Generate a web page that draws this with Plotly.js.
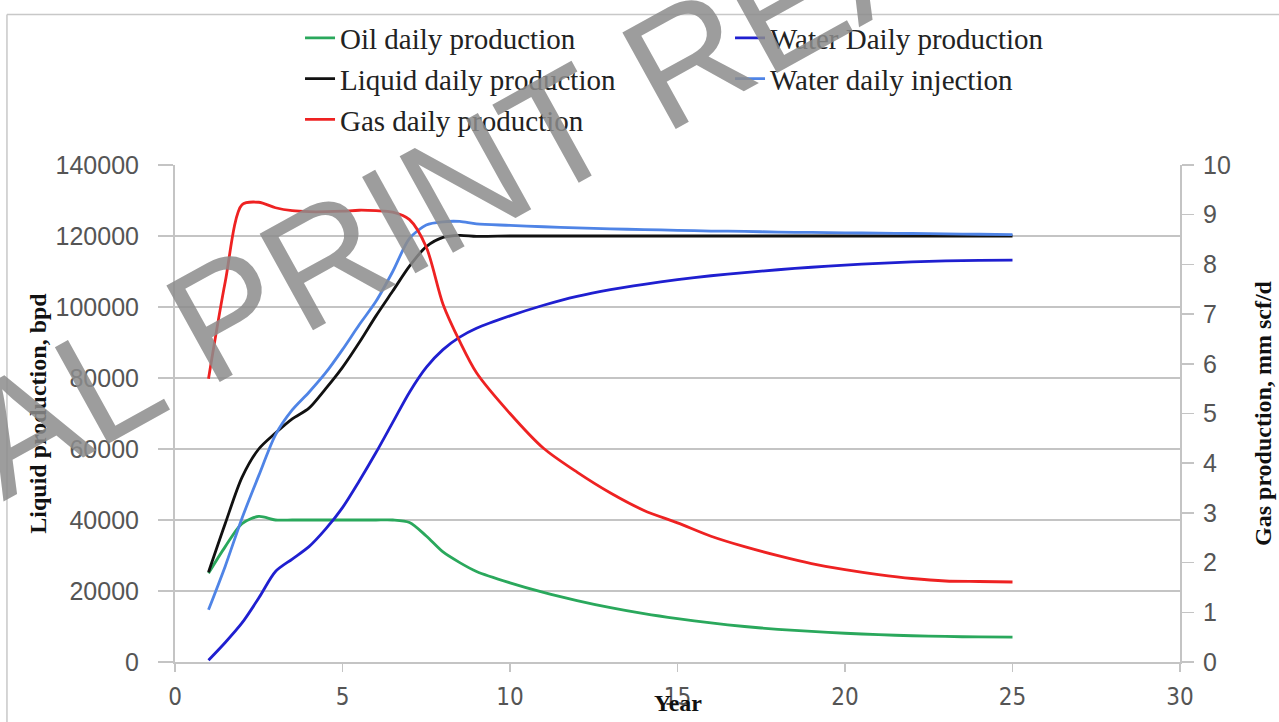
<!DOCTYPE html>
<html>
<head>
<meta charset="utf-8">
<script src="https://cdn.plot.ly/plotly-3.0.1.min.js"></script>
<style>html,body{margin:0;padding:0;background:#fff;}#chart{width:1279px;height:722px;}</style>
</head>
<body>
<div id="chart"></div>
<script>
// ---- data ----
var years = [1, 1.5, 2, 2.5, 3, 3.5, 4, 4.5, 5, 5.5, 6, 6.5, 7, 7.5, 8, 8.5, 9, 10, 11, 12, 13, 14, 15, 16, 17, 18, 19, 20, 21, 22, 23, 24, 25];

var oilDaily = [25000, 32500, 39000, 41000, 40000, 40000, 40000, 40000, 40000, 40000, 40000, 40000, 39300, 35500, 31000, 28000, 25500, 22300, 19600, 17300, 15300, 13600, 12200, 11000, 10000, 9200, 8600, 8100, 7700, 7400, 7200, 7050, 7000];

var waterDailyProd = [500, 5500, 11000, 18000, 25500, 29000, 32500, 37500, 43500, 51000, 59000, 67500, 76000, 83000, 88000, 91500, 94000, 97500, 100500, 103000, 104900, 106400, 107700, 108800, 109700, 110500, 111200, 111800, 112300, 112700, 113000, 113150, 113200];

var liquidDaily = [25300, 39000, 52000, 60000, 64500, 68500, 71500, 77000, 83000, 90000, 97500, 104500, 111500, 117000, 119600, 120200, 119900, 120000, 120000, 120000, 120000, 120000, 120000, 120000, 120000, 120000, 120000, 120000, 120000, 120000, 120000, 120000, 120000];

var waterDailyInj = [14700, 27000, 40500, 52500, 64000, 71000, 76000, 81500, 88000, 95000, 101600, 110000, 119300, 123100, 124000, 124100, 123400, 123000, 122600, 122300, 122000, 121800, 121600, 121400, 121300, 121100, 121000, 120900, 120800, 120700, 120600, 120500, 120400];

var gasDaily = [5.7, 7.65, 9.2, 9.25, 9.14, 9.08, 9.06, 9.06, 9.07, 9.09, 9.08, 9.05, 8.9, 8.35, 7.2, 6.45, 5.82, 5.0, 4.3, 3.82, 3.4, 3.05, 2.8, 2.53, 2.32, 2.14, 1.98, 1.86, 1.76, 1.68, 1.63, 1.62, 1.61];

var seriesNames = ["Oil daily production", "Water Daily production", "Liquid daily production", "Water daily injection", "Gas daily production"];
var seriesColors = ["#2aa85c", "#1f1fd0", "#111111", "#4f84e6", "#ee2222"];

var leftTicks = [0, 20000, 40000, 60000, 80000, 100000, 120000, 140000];
var rightTicks = [0, 1, 2, 3, 4, 5, 6, 7, 8, 9, 10];
var xTicks = [0, 5, 10, 15, 20, 25, 30];

// ---- traces ----
var seriesValues = [oilDaily, waterDailyProd, liquidDaily, waterDailyInj, gasDaily];
var traces = seriesValues.map(function (vals, i) {
  return {
    x: years,
    y: vals,
    name: seriesNames[i],
    type: 'scatter',
    mode: 'lines',
    yaxis: i === 4 ? 'y2' : 'y',
    line: {color: seriesColors[i], width: 2.8, shape: 'spline', smoothing: 0.8}
  };
});

var gridCol = '#c4c4c4';
var layout = {
  width: 1279,
  height: 722,
  margin: {l: 175, r: 99, t: 163, b: 60, pad: 0},
  paper_bgcolor: '#ffffff',
  plot_bgcolor: '#ffffff',
  showlegend: true,
  legend: {
    orientation: 'h',
    x: 0.1244, xanchor: 'left',
    y: 1.3066, yanchor: 'top',
    entrywidth: 385, entrywidthmode: 'pixels',
    traceorder: 'normal',
    bgcolor: 'rgba(0,0,0,0)',
    font: {family: 'Liberation Serif, Times New Roman, serif', size: 29, color: '#222'}
  },
  xaxis: {
    range: [0, 30],
    tickvals: xTicks,
    ticks: 'outside', ticklen: 8, tickwidth: 1.5, tickcolor: gridCol,
    showline: true, linecolor: gridCol, linewidth: 2,
    showgrid: false, zeroline: false,
    ticklabelstandoff: 4,
    tickfont: {family: 'Liberation Sans Narrow, DejaVu Sans Condensed, Liberation Sans, sans-serif', size: 24, color: '#555'}
  },
  yaxis: {
    range: [0, 140000],
    tickvals: leftTicks,
    tickformat: 'd',
    ticks: 'outside', ticklen: 15, tickwidth: 2, tickcolor: gridCol,
    showline: true, linecolor: gridCol, linewidth: 2,
    showgrid: true, gridcolor: gridCol, gridwidth: 2,
    zeroline: false,
    ticklabelstandoff: 14,
    tickfont: {family: 'Liberation Sans, Arial, sans-serif', size: 25, color: '#555'},
    title: {text: 'Liquid production, bpd', standoff: 2,
            font: {family: 'Liberation Serif, Times New Roman, serif', size: 24, color: '#111', weight: 'bold'}}
  },
  yaxis2: {
    range: [0, 10],
    tickvals: rightTicks,
    overlaying: 'y', side: 'right',
    ticks: 'outside', ticklen: 12, tickwidth: 1.5, tickcolor: gridCol,
    showline: true, linecolor: gridCol, linewidth: 2,
    showgrid: false, zeroline: false,
    ticklabelstandoff: 4,
    tickfont: {family: 'Liberation Sans, Arial, sans-serif', size: 25, color: '#555'},
    title: {text: 'Gas production, mm scf/d', standoff: 24,
            font: {family: 'Liberation Serif, Times New Roman, serif', size: 24, color: '#111', weight: 'bold'}}
  },
  annotations: [
    {
      text: 'Year', xref: 'paper', yref: 'paper', x: 0.5, y: -0.082,
      xanchor: 'center', yanchor: 'middle', showarrow: false,
      font: {family: 'Liberation Serif, Times New Roman, serif', size: 24, color: '#111', weight: 'bold'}
    },
    {
      text: 'FINAL PRINT READY', xref: 'paper', yref: 'paper', x: 0.2597, y: 0.9319,
      xanchor: 'center', yanchor: 'middle', showarrow: false, textangle: -29,
      font: {family: 'Liberation Sans Narrow, Liberation Sans, Arial, sans-serif', size: 160, color: 'rgba(140,140,140,0.85)'}
    }
  ],
  shapes: [
    {type: 'line', xref: 'paper', yref: 'paper', x0: -0.1672, x1: 1.11, y0: 1.3026, y1: 1.3026,
     line: {color: '#c8c8c8', width: 1.5}},
    {type: 'line', xref: 'paper', yref: 'paper', x0: -0.1672, x1: -0.1672, y0: 1.3026, y1: -0.14,
     line: {color: '#c8c8c8', width: 1.5}}
  ]
};

Plotly.newPlot('chart', traces, layout, {displayModeBar: false, staticPlot: true});
</script>
</body>
</html>
